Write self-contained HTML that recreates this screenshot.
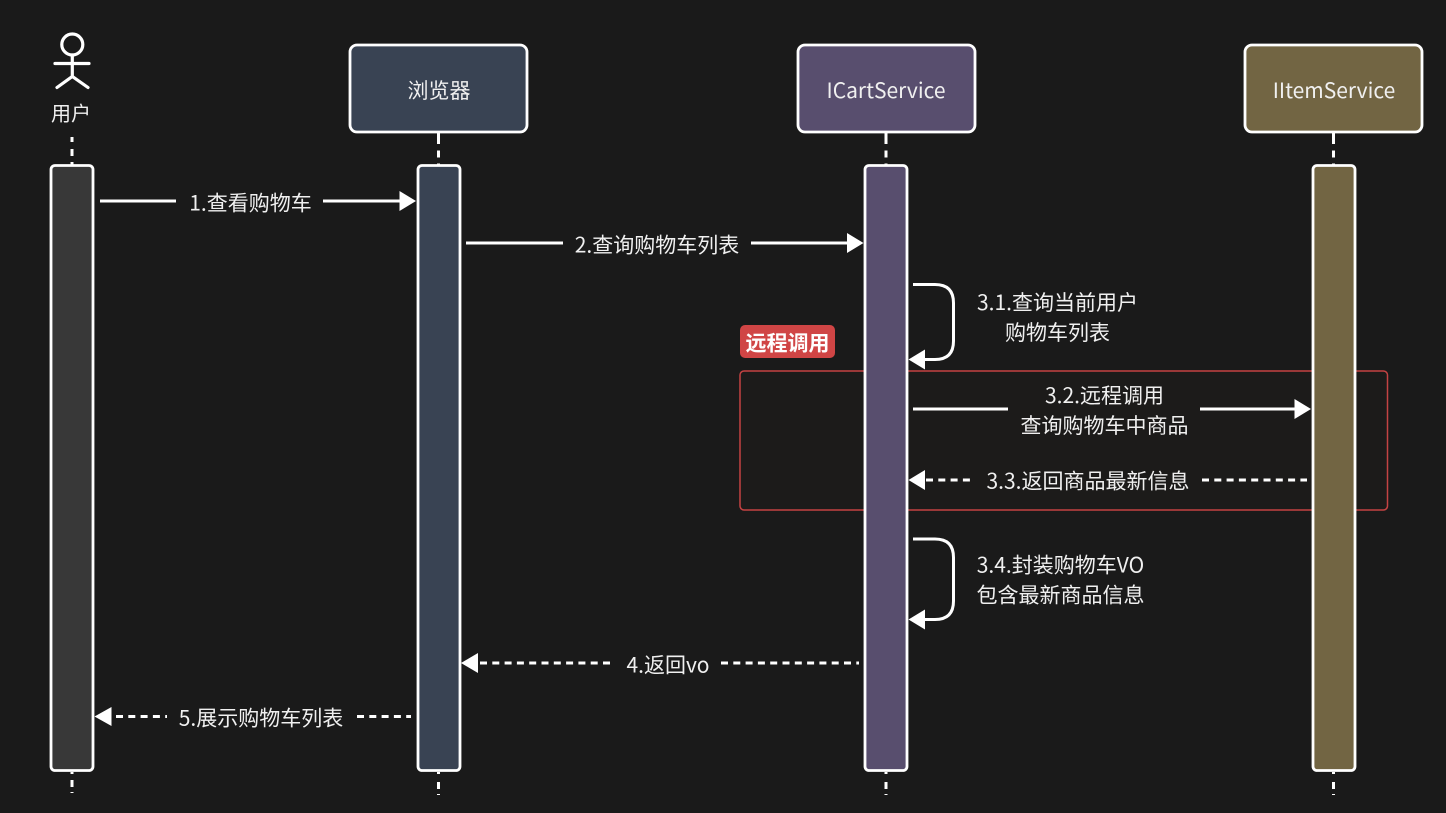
<!DOCTYPE html>
<html><head><meta charset="utf-8"><style>
html,body{margin:0;padding:0;background:#1a1a1a;width:1446px;height:813px;overflow:hidden}
svg{display:block}
text{font-family:"Noto Sans CJK SC","Liberation Sans",sans-serif;font-size:21px;fill:#f0f0f0;text-anchor:middle}
.l{fill:none;stroke:#fff;stroke-width:3}
.d{fill:none;stroke:#fff;stroke-width:3;stroke-dasharray:7 5.300}
.v{fill:none;stroke:#fff;stroke-width:3}
.b{stroke:#fff;stroke-width:2.800}
</style></head><body>
<svg width="1446" height="813" viewBox="0 0 1446 813" xmlns="http://www.w3.org/2000/svg">
<rect width="1446" height="813" fill="#1a1a1a"/>

<!-- lifelines -->
<path class="v" d="M72 137V142M72 149V156M72 162V165M72 772V774M72 780V787M72 792V793"/>
<path class="v" d="M438.500 133V144M438.500 150.500V157.500M438.500 163.500V166M438.500 772V774M438.500 782V789M438.500 794V795"/>
<path class="v" d="M886 133V144M886 150.500V157.500M886 163.500V166M886 772V774M886 782V789M886 794V795"/>
<path class="v" d="M1333.500 133V144M1333.500 150.500V157.500M1333.500 163.500V166M1333.500 772V774M1333.500 782V789M1333.500 794V795"/>

<!-- actor -->
<g fill="none" stroke="#fff" stroke-width="3.200" stroke-linecap="round">
<circle cx="72.300" cy="44.500" r="10.500"/>
<path d="M72.300 55V76.500M55 63.500H89M57 87.500L72.300 76.500L88 87.500"/>
</g>
<text x="71" y="120.500" style="font-size:20px">用户</text>

<!-- headers -->
<rect class="b" x="350" y="45" width="177" height="87" rx="7" fill="#394353"/>
<rect class="b" x="798" y="45" width="177" height="87" rx="7" fill="#584e6e"/>
<rect class="b" x="1245" y="45" width="177" height="87" rx="7" fill="#726543"/>
<text x="439" y="98">浏览器</text>
<text x="886" y="98">ICartService</text>
<text x="1334" y="98">IItemService</text>

<!-- remote frame -->
<rect x="740" y="371" width="647.500" height="139" rx="4" fill="#1c1b1a" stroke="#c44343" stroke-width="1.500"/>
<rect x="740" y="325" width="95" height="33" rx="5" fill="#d04545"/>
<text x="787.500" y="350.500" style="font-weight:700;fill:#fff">远程调用</text>

<!-- activations -->
<rect class="b" x="51" y="165.500" width="42" height="605" rx="4" fill="#383838"/>
<rect class="b" x="418" y="165.500" width="42" height="605" rx="4" fill="#394353"/>
<rect class="b" x="865" y="165.500" width="42" height="605" rx="4" fill="#584e6e"/>
<rect class="b" x="1313" y="165.500" width="42" height="605" rx="4" fill="#726543"/>

<!-- message 1 -->
<path class="l" d="M100 201H176M323 201H402"/>
<path d="M416 201L399.500 191V211Z" fill="#fff"/>
<text x="250.500" y="210.500">1.查看购物车</text>

<!-- message 2 -->
<path class="l" d="M466 243H563M751 243H850"/>
<path d="M863.500 243L847 233V253Z" fill="#fff"/>
<text x="657" y="252.500">2.查询购物车列表</text>

<!-- 3.1 -->
<path class="l" d="M913 284.500H935Q953.500 284.500 953.500 303V341Q953.500 359.500 935 359.500H922"/>
<path d="M908.500 359.500L925 349.500V369.500Z" fill="#fff"/>
<text x="1057.500" y="310">3.1.查询当前用户</text>
<text x="1057.500" y="340">购物车列表</text>

<!-- 3.2 -->
<path class="l" d="M913 409H1008M1200 409H1297"/>
<path d="M1311 409L1294.500 399V419Z" fill="#fff"/>
<text x="1104.500" y="403">3.2.远程调用</text>
<text x="1104.500" y="433">查询购物车中商品</text>

<!-- 3.3 -->
<path class="d" d="M926 480H972M1202 480H1307"/>
<path d="M908.500 480L925 470V490Z" fill="#fff"/>
<text x="1088" y="488.500">3.3.返回商品最新信息</text>

<!-- 3.4 -->
<path class="l" d="M913 539H935Q953.500 539 953.500 557.500V601Q953.500 619.500 935 619.500H922"/>
<path d="M908.500 619.500L925 609.500V629.500Z" fill="#fff"/>
<text x="1060.500" y="572.500">3.4.封装购物车VO</text>
<text x="1060.500" y="602.500">包含最新商品信息</text>

<!-- message 4 -->
<path class="d" d="M480 663H615M721 663H859"/>
<path d="M461 663L478 653V673Z" fill="#fff"/>
<text x="668" y="672.500">4.返回vo</text>

<!-- message 5 -->
<path class="d" d="M116 716.500H167M357 716.500H411"/>
<path d="M94.500 716.500L111.500 707V726Z" fill="#fff"/>
<text x="261" y="725.500">5.展示购物车列表</text>
</svg>
</body></html>
